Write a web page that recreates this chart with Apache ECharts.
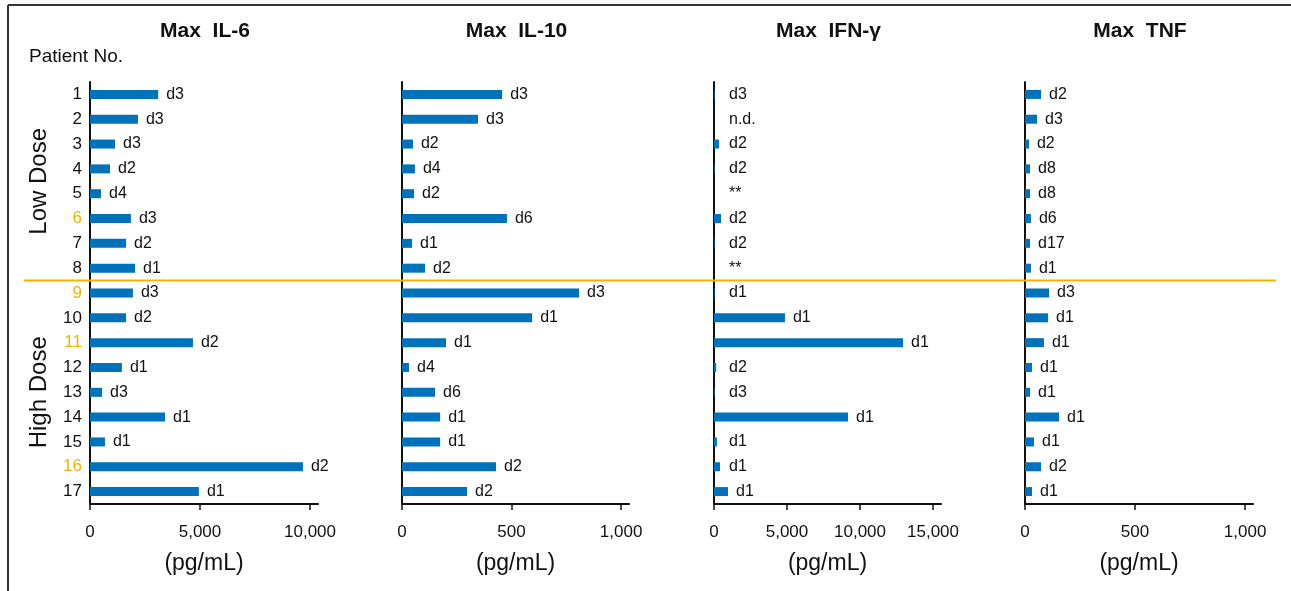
<!DOCTYPE html>
<html>
<head>
<meta charset="utf-8">
<script src="https://cdn.jsdelivr.net/npm/echarts@6/dist/echarts.min.js"></script>
<style>
  html, body { margin: 0; padding: 0; background: #fff; }
  #chart { width: 1291px; height: 591px; }
</style>
</head>
<body>
<div id="chart"></div>
<script>
// Patients 1-8 received the low dose, 9-17 the high dose
const patients = ['1','2','3','4','5','6','7','8','9','10','11','12','13','14','15','16','17'];
const highlightedPatients = ['6','9','11','16'];
const lowDoseCount = 8;

const panelTitles = ['Max  IL-6', 'Max  IL-10', 'Max  IFN-\u03b3', 'Max  TNF'];

// Peak cytokine levels (pg/mL) and the day the peak was reached
const il6Values = [3100, 2180, 1140, 910, 500, 1860, 1640, 2050, 1950, 1640, 4680, 1450, 550, 3410, 680, 9680, 4950];
const il6Days   = ['d3','d3','d3','d2','d4','d3','d2','d1','d3','d2','d2','d1','d3','d1','d1','d2','d1'];

const il10Values = [457, 347, 50, 59, 55, 479, 46, 105, 808, 594, 201, 32, 151, 174, 174, 429, 297];
const il10Days   = ['d3','d3','d2','d4','d2','d6','d1','d2','d3','d1','d1','d4','d6','d1','d1','d2','d2'];

const ifngValues = [40, 0, 340, 40, 0, 480, 40, 0, 40, 4860, 12950, 150, 40, 9180, 200, 410, 960];
const ifngDays   = ['d3','n.d.','d2','d2','**','d2','d2','**','d1','d1','d1','d2','d3','d1','d1','d1','d1'];

const tnfValues = [73, 55, 18, 23, 23, 27, 23, 27, 109, 105, 86, 32, 23, 155, 41, 73, 32];
const tnfDays   = ['d2','d3','d2','d8','d8','d6','d17','d1','d3','d1','d1','d1','d1','d1','d1','d2','d1'];

// Tick labels of each value axis
const il6Ticks  = [0, 5000, 10000];
const il10Ticks = [0, 500, 1000];
const ifngTicks = [0, 5000, 10000, 15000];
const tnfTicks  = [0, 500, 1000];

const unitLabel = '(pg/mL)';

const panels = [
  { values: il6Values,  days: il6Days,  ticks: il6Ticks,  max: 10364 },
  { values: il10Values, days: il10Days, ticks: il10Ticks, max: 1036 },
  { values: ifngValues, days: ifngDays, ticks: ifngTicks, max: 15548 },
  { values: tnfValues,  days: tnfDays,  ticks: tnfTicks,  max: 1036 }
];

const FONT = '"Liberation Sans", Arial, Helvetica, sans-serif';
const BAR = '#0072bc';
const GOLD = '#f0b400';
const INK = '#111';

const gridLeft  = [90, 402, 714, 1025];
const gridWidth = [228, 227, 227, 228];
const gridTop = 82, gridHeight = 422;

const fmt = v => Number(v).toLocaleString('en-US');

const chart = echarts.init(document.getElementById('chart'), null, { renderer: 'canvas' });

function buildOption(labelDistances) {
  return {
    animation: false,
    backgroundColor: '#fff',
    textStyle: { fontFamily: FONT },
    title: panelTitles.map((t, i) => ({
      text: t,
      left: gridLeft[i] + gridWidth[i] / 2 - 4,
      top: 16,
      textAlign: 'center',
      textStyle: { fontFamily: FONT, fontSize: 21, fontWeight: 'bold', color: INK }
    })),
    grid: panels.map((p, i) => ({
      left: gridLeft[i], width: gridWidth[i], top: gridTop, height: gridHeight, containLabel: false
    })),
    xAxis: panels.map((p, i) => ({
      type: 'value',
      gridIndex: i,
      min: 0,
      max: p.max,
      splitLine: { show: false },
      axisLine: { show: true, lineStyle: { color: INK, width: 2 } },
      axisTick: { show: true, customValues: p.ticks, length: 6, lineStyle: { color: INK, width: 1.5 } },
      axisLabel: {
        customValues: p.ticks,
        formatter: v => fmt(v),
        margin: 20,
        fontFamily: FONT, fontSize: 17, color: INK
      },
      name: unitLabel,
      nameLocation: 'middle',
      nameGap: 48,
      nameTextStyle: { fontFamily: FONT, fontSize: 23, color: INK }
    })),
    yAxis: panels.map((p, i) => ({
      type: 'category',
      gridIndex: i,
      inverse: true,
      data: patients,
      axisLine: { show: true, onZero: false, lineStyle: { color: INK, width: 2 } },
      axisTick: { show: false },
      splitLine: { show: false },
      axisLabel: {
        show: i === 0,
        margin: 8,
        fontFamily: FONT,
        fontSize: 17,
        color: INK,
        formatter: v => highlightedPatients.includes(v) ? '{hi|' + v + '}' : v,
        rich: { hi: { color: GOLD, fontFamily: FONT, fontSize: 17 } }
      }
    })),
    series: panels.map((p, i) => ({
      type: 'bar',
      xAxisIndex: i,
      yAxisIndex: i,
      barWidth: 9,
      itemStyle: { color: BAR },
      data: p.values.map((v, k) => ({
        value: v,
        label: labelDistances && labelDistances[i] ? { distance: labelDistances[i][k] } : undefined
      })),
      label: {
        show: true,
        position: 'right',
        distance: 8,
        fontFamily: FONT,
        fontSize: 16,
        color: INK,
        formatter: params => p.days[params.dataIndex]
      }
    }))
  };
}

chart.setOption(buildOption(null));

// In the IFN-γ panel the day labels never sit closer to the axis than the
// smallest bars would put them, so tiny and absent bars share one column.
const ifngIdx = 2;
const px0 = chart.convertToPixel({ xAxisIndex: ifngIdx }, 0);
const pxPerUnit = (chart.convertToPixel({ xAxisIndex: ifngIdx }, 1000) - px0) / 1000;
const distances = panels.map((p, i) =>
  i === ifngIdx ? p.values.map(v => Math.max(8, 15 - v * pxPerUnit)) : null
);
chart.setOption(buildOption(distances));

// Dose-group separator and group names
const yLast = chart.convertToPixel({ yAxisIndex: 0 }, patients[lowDoseCount - 1]);
const yFirstHigh = chart.convertToPixel({ yAxisIndex: 0 }, patients[lowDoseCount]);
const yFirst = chart.convertToPixel({ yAxisIndex: 0 }, patients[0]);
const yEnd = chart.convertToPixel({ yAxisIndex: 0 }, patients[patients.length - 1]);
const sepY = (yLast + yFirstHigh) / 2;

chart.setOption({
  graphic: [
    // outer frame (top and left rules)
    { type: 'line', shape: { x1: 8, y1: 5, x2: 1291, y2: 5 }, style: { stroke: '#333', lineWidth: 2 }, z: 10 },
    { type: 'line', shape: { x1: 8, y1: 5, x2: 8, y2: 591 }, style: { stroke: '#333', lineWidth: 2 }, z: 10 },
    // separator between low and high dose
    { type: 'line', shape: { x1: 24, y1: sepY, x2: 1276, y2: sepY }, style: { stroke: GOLD, lineWidth: 2 }, z: 10 },
    {
      type: 'text', x: 29, y: 57,
      style: { text: 'Patient No.', fontFamily: FONT, fontSize: 19, fill: INK, verticalAlign: 'middle' }
    },
    {
      type: 'text', x: 39, y: (yFirst + yLast) / 2, rotation: Math.PI / 2,
      style: { text: 'Low Dose', fontFamily: FONT, fontSize: 24, fill: INK, align: 'center', verticalAlign: 'middle' }
    },
    {
      type: 'text', x: 39, y: (yFirstHigh + yEnd) / 2, rotation: Math.PI / 2,
      style: { text: 'High Dose', fontFamily: FONT, fontSize: 24, fill: INK, align: 'center', verticalAlign: 'middle' }
    }
  ]
});
</script>
</body>
</html>
